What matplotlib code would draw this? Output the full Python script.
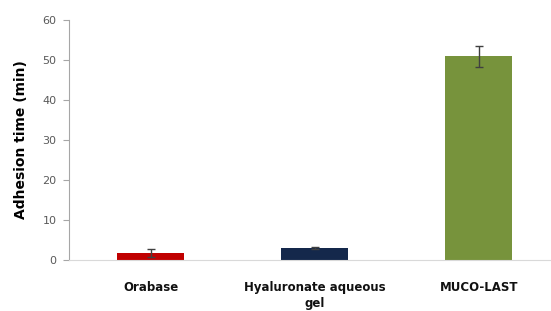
import matplotlib.pyplot as plt

categories = ["Orabase", "Hyaluronate aqueous\ngel", "MUCO-LAST"]
values = [1.8, 3.0, 50.9]
errors = [1.0, 0.3, 2.7]
colors = ["#C00000", "#14284B", "#77933C"]

fig = plt.figure(figsize=(5.51, 3.11), dpi=100)
ax = fig.add_axes([0.125, 0.164, 0.875, 0.772])

x = range(len(categories))
ax.bar(x, values, width=0.41, color=colors,
       yerr=errors, error_kw=dict(ecolor="#404040", elinewidth=1, capsize=3, capthick=1))

ax.set_ylim(0, 60)
ax.set_yticks(range(0, 61, 10))
ax.set_xlim(-0.5, 2.44)
ax.set_xticks(list(x))
ax.set_xticklabels(categories, fontweight="bold", fontsize=8.5, color="#111111",
                   linespacing=1.3)
ax.tick_params(axis="x", length=0, pad=15)
ax.tick_params(axis="y", labelsize=8, labelcolor="#595959", color="#A6A6A6",
               length=4, width=0.8, pad=5)
ax.set_ylabel("Adhesion time (min)", fontweight="bold", fontsize=10, labelpad=10)

for s in ["top", "right"]:
    ax.spines[s].set_visible(False)
ax.spines["left"].set_color("#A6A6A6")
ax.spines["bottom"].set_color("#D9D9D9")

fig.savefig("out.png", dpi=100)
